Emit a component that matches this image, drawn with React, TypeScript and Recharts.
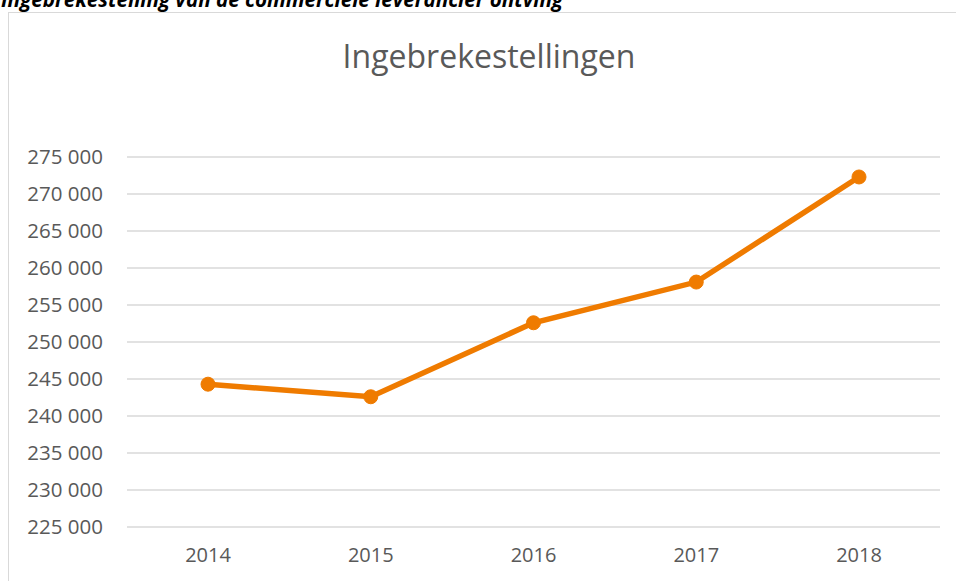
import React from "react";
import { LineChart, Line, XAxis, YAxis, CartesianGrid } from "recharts";

const years = ["2014", "2015", "2016", "2017", "2018"];
const ingebrekestellingen = [244300, 242600, 252600, 258100, 272300];
const yTicks = [225000, 230000, 235000, 240000, 245000, 250000, 255000, 260000, 265000, 270000, 275000];

const data = years.map((y, i) => ({ year: y, value: ingebrekestellingen[i] }));

const fmt = (v: number) => {
  const s = String(Math.round(v));
  return s.replace(/\B(?=(\d{3})+(?!\d))/g, " ");
};

const FONT = "'Open Sans', 'Noto Sans', sans-serif";

export default function App() {
  return (
    <div
      style={{
        position: "fixed",
        left: 0,
        top: 0,
        width: 956,
        height: 581,
        overflow: "hidden",
        background: "#ffffff",
      }}
    >
      <svg width={956} height={20} style={{ position: "absolute", left: 0, top: 0 }}>
        <text
          x={1}
          y={7}
          fontFamily={FONT}
          fontSize={20.5}
          fontWeight={700}
          fontStyle="italic"
          fill="#000000"
          textLength={562}
          lengthAdjust="spacingAndGlyphs"
        >
          Ingebrekestelling van de commerciele leverancier ontving
        </text>
      </svg>
      <div
        style={{
          position: "absolute",
          left: 8,
          top: 12,
          width: 980,
          height: 620,
          border: "1px solid #d9d9d9",
          boxSizing: "border-box",
        }}
      />
      <div
        style={{
          position: "absolute",
          left: 0,
          width: 978,
          top: 34,
          textAlign: "center",
          fontFamily: FONT,
          fontSize: 32,
          color: "#595959",
          lineHeight: "44px",
        }}
      >
        Ingebrekestellingen
      </div>
      <div style={{ position: "absolute", left: 0, top: 0 }}>
        <LineChart
          width={956}
          height={581}
          data={data}
          margin={{ top: 157, right: 16, bottom: 0, left: 0 }}
        >
          <CartesianGrid vertical={false} stroke="#d9d9d9" strokeWidth={1.3} />
          <XAxis
            dataKey="year"
            axisLine={false}
            tickLine={false}
            tickSize={0}
            tickMargin={21}
            height={54}
            interval={0}
            padding={{ left: 81, right: 81 }}
            tick={{ fill: "#595959", fontSize: 20, fontFamily: FONT }}
          />
          <YAxis
            domain={[225000, 275000]}
            ticks={yTicks}
            axisLine={false}
            tickLine={false}
            tickSize={0}
            tickMargin={24}
            width={127}
            interval={0}
            tickFormatter={fmt}
            tick={{ fill: "#595959", fontSize: 20.5, fontFamily: FONT }}
          />
          <Line
            type="linear"
            dataKey="value"
            stroke="#ef7b00"
            strokeWidth={5.5}
            dot={{ r: 7, fill: "#ef7b00", stroke: "#ef7b00", strokeWidth: 1 }}
            activeDot={false}
            isAnimationActive={false}
          />
        </LineChart>
      </div>
    </div>
  );
}
